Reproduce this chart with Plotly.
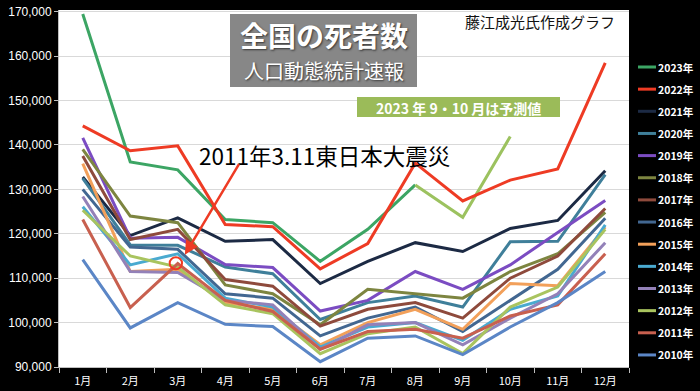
import plotly.graph_objects as go

# ---------------- data ----------------
months = ["1月", "2月", "3月", "4月", "5月", "6月", "7月", "8月", "9月", "10月", "11月", "12月"]

y2023 = [169500, 136200, 134400, 123200, 122500, 113800, 121000, 131000]
pred2023_months = ["8月", "9月", "10月"]
pred2023 = [131000, 123700, 141900]
y2022 = [144300, 138700, 139800, 122100, 121600, 112100, 117800, 135900, 127400, 132100, 134600, 158500]
y2021 = [132800, 119600, 123600, 118300, 118700, 108800, 113800, 118000, 116000, 121200, 123000, 134200]
y2020 = [132500, 117500, 117400, 112500, 111000, 100700, 104500, 106000, 103500, 118200, 118300, 133300]
y2019 = [141600, 119000, 119200, 113100, 112400, 102600, 105000, 111500, 107500, 113000, 120300, 127500]
y2018 = [139000, 124000, 122500, 108500, 106500, 99500, 107500, 106500, 105500, 111500, 115500, 124800]
y2017 = [137500, 118700, 121000, 109700, 108200, 99200, 103000, 104500, 101000, 110000, 115000, 125700]
y2016 = [130000, 117000, 116500, 106500, 105500, 97000, 101000, 103500, 98000, 105000, 112000, 123500]
y2015 = [135800, 111500, 112000, 104500, 103000, 95000, 100000, 103000, 98500, 108800, 108300, 121500]
y2014 = [126100, 113000, 115500, 105500, 103500, 94500, 99000, 100000, 96000, 103000, 106000, 122000]
y2013 = [128400, 111500, 111300, 105000, 104000, 94000, 99500, 100000, 95000, 101000, 106500, 118000]
y2012 = [125300, 115000, 112500, 104000, 102000, 93000, 97500, 99000, 93000, 103500, 108000, 121000]
y2011 = [123200, 103400, 113300, 105000, 102500, 94000, 98000, 98500, 96500, 101500, 104000, 115500]
y2010 = [114200, 98800, 104500, 99600, 99100, 91200, 96500, 97000, 92800, 99000, 104500, 111500]

years = ["2023年", "2022年", "2021年", "2020年", "2019年", "2018年", "2017年",
         "2016年", "2015年", "2014年", "2013年", "2012年", "2011年", "2010年"]
series = [y2023, y2022, y2021, y2020, y2019, y2018, y2017,
          y2016, y2015, y2014, y2013, y2012, y2011, y2010]
colors = ["#3ca564", "#ee3b24", "#1c2a44", "#3f7f9a", "#7b4cc2", "#7d8540", "#8e4a3c",
          "#426791", "#f2a05a", "#4aaad0", "#9381b8", "#a9c45f", "#c8604f", "#5b86c6"]
pred_color = "#9cc25f"

y_ticks = [90000, 100000, 110000, 120000, 130000, 140000, 150000, 160000, 170000]

# ---------------- figure ----------------
W, H = 700, 391
L, R, T, B = 59, 629, 10, 367
JP = "Noto Sans CJK JP"


def px(x):
    return (x - L) / (R - L)


def py(y):
    return (B - y) / (B - T)


fig = go.Figure()
for name, vals, col in zip(years, series, colors):
    fig.add_trace(go.Scatter(x=months[:len(vals)], y=vals, mode="lines", name=name,
                             line=dict(color=col, width=3), showlegend=False))
    if name == "2023年":
        fig.add_trace(go.Scatter(x=pred2023_months, y=pred2023, mode="lines",
                                 name="2023年予測", line=dict(color=pred_color, width=3),
                                 showlegend=False))

shapes = []
annotations = []

# legend (drawn manually to match layout)
for i, (name, col) in enumerate(zip(years, colors)):
    yy = 67 + i * 22.15
    shapes.append(dict(type="line", xref="paper", yref="paper",
                       x0=px(638), x1=px(656), y0=py(yy), y1=py(yy),
                       line=dict(color=col, width=3)))
    annotations.append(dict(xref="paper", yref="paper", x=px(656), y=py(yy),
                            text="<b>" + name + "</b>", showarrow=False,
                            xanchor="left", yanchor="middle",
                            font=dict(family=JP, size=10.5, color="white")))

# title box
shapes.append(dict(type="rect", xref="paper", yref="paper",
                   x0=px(230), x1=px(417), y0=py(87), y1=py(14),
                   fillcolor="#878787", line=dict(width=0), layer="above"))
shadow = "1px 1px 2px rgba(20,20,20,0.7)"
annotations.append(dict(xref="paper", yref="paper", x=px(324), y=py(35),
                        text="<b>全国の死者数</b>", showarrow=False,
                        xanchor="center", yanchor="middle",
                        font=dict(family=JP, size=28, color="white", shadow=shadow)))
annotations.append(dict(xref="paper", yref="paper", x=px(324), y=py(70.5),
                        text="人口動態統計速報", showarrow=False,
                        xanchor="center", yanchor="middle",
                        font=dict(family=JP, size=20, color="white", shadow=shadow)))

# author credit
annotations.append(dict(xref="paper", yref="paper", x=px(617), y=py(22),
                        text="藤江成光氏作成グラフ", showarrow=False,
                        xanchor="right", yanchor="middle",
                        font=dict(family=JP, size=15, color="#111111")))

# prediction note
shapes.append(dict(type="rect", xref="paper", yref="paper",
                   x0=px(357), x1=px(560), y0=py(117), y1=py(97),
                   fillcolor="#9bbb59", line=dict(width=0), layer="above"))
annotations.append(dict(xref="paper", yref="paper", x=px(458), y=py(107.5),
                        text="<b>2023 年 9・10 月は予測値</b>", showarrow=False,
                        xanchor="center", yanchor="middle",
                        font=dict(family=JP, size=14, color="white")))

# earthquake label and arrow
annotations.append(dict(xref="paper", yref="paper", x=px(197), y=py(155),
                        text="2011年3.11東日本大震災", showarrow=False,
                        xanchor="left", yanchor="middle",
                        font=dict(family=JP, size=22.5, color="black")))
annotations.append(dict(xref="x", yref="y", x=2.15, y=115300, text="",
                        showarrow=True, arrowhead=2, arrowsize=1.1, arrowwidth=2.5,
                        arrowcolor="#ee3b24", ax=55, ay=-92))
shapes.append(dict(type="circle", xref="x", yref="y",
                   x0=1.83, x1=2.09, y0=112000, y1=114700,
                   line=dict(color="#ee3b24", width=2)))

fig.update_layout(
    width=W, height=H,
    margin=dict(l=L, r=W - R, t=T, b=H - B, autoexpand=False),
    paper_bgcolor="black", plot_bgcolor="white",
    showlegend=False,
    shapes=shapes, annotations=annotations,
    xaxis=dict(type="category", categoryorder="array", categoryarray=months,
               range=[-0.5, 11.5], showgrid=False, showline=True, linecolor="#bfbfbf",
               linewidth=1, ticks="outside", tickson="boundaries", ticklen=5,
               tickcolor="#bfbfbf", ticklabelstandoff=4, automargin=False,
               tickfont=dict(family=JP, size=11, color="white"),
               fixedrange=True),
    yaxis=dict(range=[90000, 170400], tickvals=y_ticks, tickformat=",d",
               showgrid=True, gridcolor="#d9d9d9", gridwidth=1,
               showline=True, linecolor="#bfbfbf", ticks="outside", ticklen=4,
               tickcolor="#bfbfbf", zeroline=False, automargin=False,
               tickfont=dict(family="Liberation Sans", size=12, color="white"),
               fixedrange=True),
)

fig.write_html("out.html", config={"displayModeBar": False},
               post_script="document.body.style.margin='0px';document.body.style.background='black';")
